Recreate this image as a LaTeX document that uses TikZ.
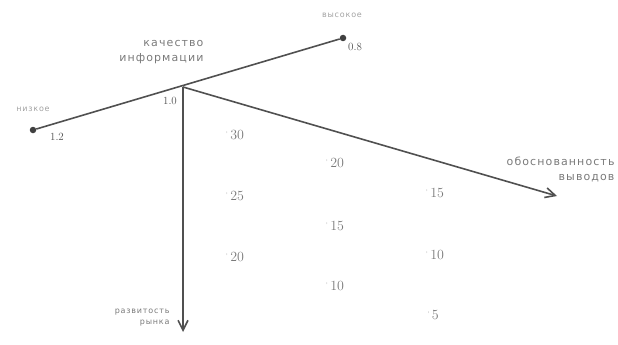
\documentclass[tikz,border=0pt]{standalone}
\usepackage{fontspec}
\newfontfamily\capfont[LetterSpace=10]{DejaVu Sans}
\usetikzlibrary{arrows.meta, positioning}
\definecolor{ink}{HTML}{505050}
\definecolor{labelgray}{HTML}{7A7A7A}
\newcommand{\valmark}{\raisebox{4pt}{\tiny '}\,}
\tikzset{
  axis/.style={draw=ink, line width=1.6pt},
  arrow/.style={axis, -{Straight Barb[length=3.5mm, width=3.5mm]}},
  endpoint/.style={circle, fill=ink!80!black, inner sep=0pt, minimum size=6.5pt},
  caption/.style={font=\capfont\fontsize{11}{15}\selectfont, text=labelgray, align=right},
  smallcaption/.style={font=\capfont\fontsize{8}{10}\selectfont, text=labelgray!70, align=right},
  scalemark/.style={font=\fontsize{11}{12}\selectfont, text=ink},
  value/.style={font=\fontsize{14}{15}\selectfont, text=labelgray}
}

\begin{document}
\begin{tikzpicture}[x=1pt, y=-1pt]
\useasboundingbox (0,0) rectangle (618,345);

\coordinate (origin) at (183,87);
\node[endpoint] (low) at (33,130) {};
\node[endpoint] (high) at (343,38) {};
\coordinate (depth) at (557,196);
\coordinate (market) at (183,332);

\draw[axis] (low) -- (high);
\draw[arrow] (origin) -- (depth);
\draw[arrow] (origin) -- (market);

% axis captions
\node[caption, anchor=east] (quality) at (207,52) {качество\\информации};
\node[smallcaption] (lowlabel) at (33,109) {низкое};
\node[smallcaption] (highlabel) at (342,15) {высокое};
\node[caption, anchor=east] (validity) at (618,169) {обоснованность\\выводов};
\node[caption, anchor=east, font=\capfont\fontsize{8}{11}\selectfont] (development) at (173,318) {развитость\\рынка};

% scale marks
\node[scalemark] (mlow) at (57,137) {1.2};
\node[scalemark] (morigin) at (170,101) {1.0};
\node[scalemark] (mhigh) at (355,47) {0.8};

% values
\node[value] (v30) at (235,135) {\valmark 30};
\node[value] (v20a) at (335,163) {\valmark 20};
\node[value] (v15a) at (435,193) {\valmark 15};
\node[value] (v25) at (235,196) {\valmark 25};
\node[value] (v15b) at (335,226) {\valmark 15};
\node[value] (v10a) at (435,255) {\valmark 10};
\node[value] (v20b) at (235,257) {\valmark 20};
\node[value] (v10b) at (335,286) {\valmark 10};
\node[value] (v5) at (433,315) {\valmark 5};

\end{tikzpicture}
\end{document}
